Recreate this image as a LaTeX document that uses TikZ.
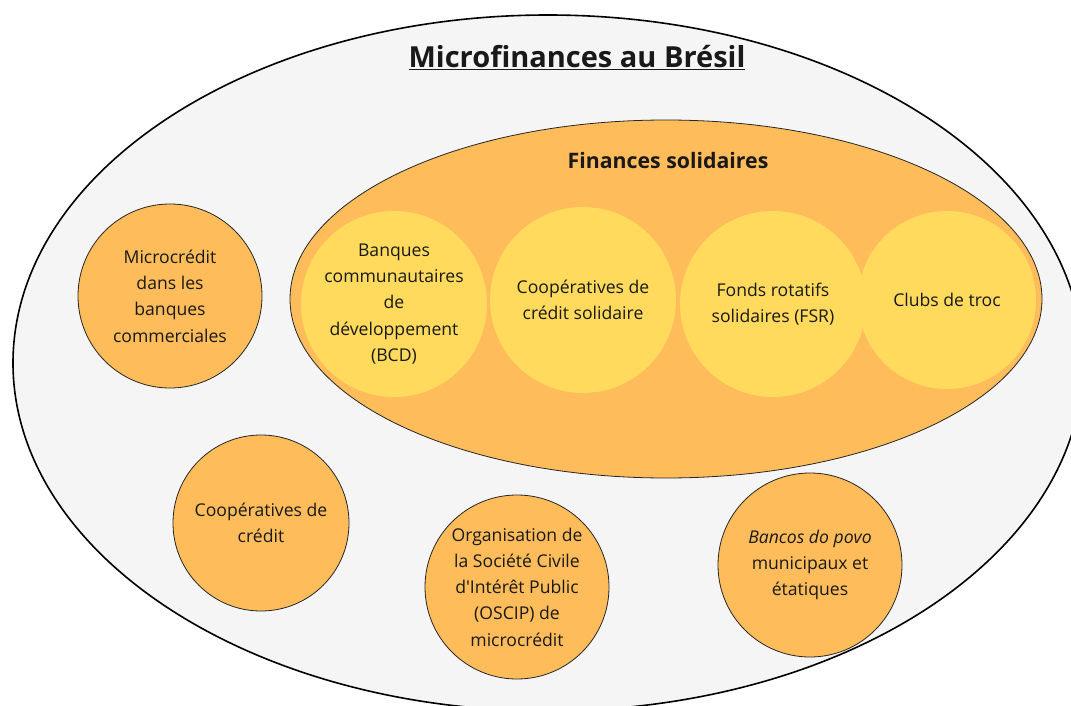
\documentclass[tikz,border=0pt]{standalone}
\usepackage{fontspec}
\setmainfont{Open Sans}
\usetikzlibrary{shapes.geometric, positioning}
\definecolor{bresilgray}{HTML}{F5F5F5}
\definecolor{bresilorange}{HTML}{FFBC5B}
\definecolor{bresilyellow}{HTML}{FFDA5C}

\begin{document}
\begin{tikzpicture}[
    x=1pt, y=-1pt,
    every node/.style={font=\fontsize{17.6}{26.3}\selectfont, text=black!90},
    outer/.style={ellipse, draw=black, line width=1.6pt, fill=bresilgray, minimum width=1070pt, minimum height=696pt, inner sep=0pt},
    group/.style={ellipse, draw=black!85, line width=0.8pt, fill=bresilorange, minimum width=752pt, minimum height=358pt, inner sep=0pt},
    solid/.style={circle, fill=bresilyellow, minimum size=186pt, inner sep=0pt, align=center},
    actor/.style={circle, draw=black!85, line width=0.8pt, fill=bresilorange, minimum size=184pt, inner sep=0pt, align=center}
]
\useasboundingbox (0,0) rectangle (1071,706);
\clip (0,0) rectangle (1071,706);

\node[outer] (bresil) at (548,363) {};
\node[anchor=base, font=\fontsize{29}{32}\selectfont\bfseries] (titre) at (577,68) {\underline{Microfinances au Brésil}};

\node[group] (solidaires) at (666,299) {};
\node[anchor=base, font=\fontsize{21.3}{24}\selectfont\bfseries] (soltitre) at (668,168) {Finances solidaires};

% finances solidaires
\node[solid] (bcd) at (394,304) {Banques\\communautaires\\de\\développement\\(BCD)};
\node[solid] (coopsol) at (583,300) {Coopératives de\\crédit solidaire};
\node[solid] (fsr) at (773,304) {Fonds rotatifs\\solidaires (FSR)};
\node[solid, minimum size=178pt] (troc) at (947,300) {Clubs de troc};

% autres acteurs
\node[actor] (banques) at (170,296) {Microcrédit\\dans les\\banques\\commerciales};
\node[actor, minimum size=176pt] (coopcred) at (261,523) {Coopératives de\\crédit};
\node[actor] (oscip) at (517,587) {Organisation de\\la Société Civile\\d\textquotesingle Intérêt Public\\(OSCIP) de\\microcrédit};
\node[actor] (povo) at (810,565) {\textit{Bancos do povo}\\municipaux et\\étatiques};

\end{tikzpicture}
\end{document}
